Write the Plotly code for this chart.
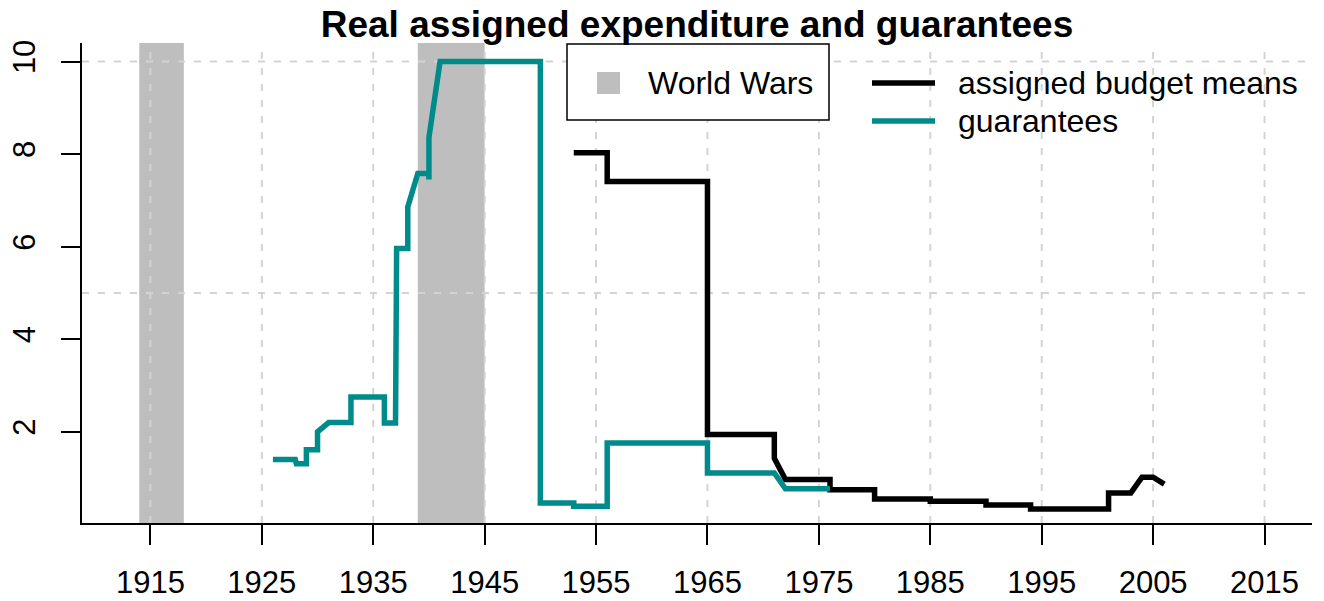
import plotly.graph_objects as go

# ---------------- data ----------------
guar_years = [1926.0, 1928.0, 1928.1, 1929.0, 1929.0, 1930.0, 1930.0, 1931.0, 1933.0, 1933.0,
              1936.0, 1936.0, 1937.0, 1937.0, 1937.1, 1938.1, 1938.1, 1939.0, 1940.0, 1940.0,
              1940.0, 1941.0, 1950.0, 1950.0, 1953.0, 1953.0, 1956.0, 1956.0, 1965.0, 1965.0,
              1971.0, 1972.0, 1976.0]
guar_values = [1.40, 1.40, 1.31, 1.31, 1.61, 1.61, 2.00, 2.20, 2.20, 2.75,
               2.75, 2.19, 2.19, 4.27, 5.96, 5.96, 6.86, 7.58, 7.58, 7.45,
               8.36, 10.0, 10.0, 0.46, 0.46, 0.39, 0.39, 1.76, 1.76, 1.11,
               1.11, 0.77, 0.77]

budget_years = [1953, 1956, 1956, 1965, 1965, 1971, 1971, 1972, 1976, 1976,
                1980, 1980, 1985, 1985, 1990, 1990, 1994, 1994, 2001, 2001,
                2003, 2004, 2005, 2006]
budget_values = [8.03, 8.03, 7.41, 7.41, 1.94, 1.94, 1.43, 0.97, 0.97, 0.75,
                 0.75, 0.55, 0.55, 0.50, 0.50, 0.42, 0.42, 0.33, 0.33, 0.68,
                 0.68, 1.02, 1.02, 0.87]

war_starts = [1914, 1939]
war_ends = [1918, 1945]

x_ticks = [1915, 1925, 1935, 1945, 1955, 1965, 1975, 1985, 1995, 2005, 2015]
y_ticks = [2, 4, 6, 8, 10]
y_grid = [5, 10]

title_text = "Real assigned expenditure and guarantees"
legend_war = "World Wars"
legend_budget = "assigned budget means"
legend_guar = "guarantees"

# ---------------- styling ----------------
TEAL = "#008B8B"
WAR_GRAY = "#BEBEBE"
GRID = "#D3D3D3"
FONT = "Liberation Sans, Arial, Helvetica, sans-serif"

W, H = 1324, 601
L, R, T, B = 82, 12, 43, 78
PW = W - L - R
PH = H - T - B


def px_x(X):
    return (X - L) / PW


def px_y(Y):
    return (H - B - Y) / PH


fig = go.Figure()

fig.add_trace(go.Scatter(x=budget_years, y=budget_values, mode="lines",
                         line=dict(color="black", width=5.5), showlegend=False,
                         name=legend_budget))
fig.add_trace(go.Scatter(x=guar_years, y=guar_values, mode="lines",
                         line=dict(color=TEAL, width=5.5), showlegend=False,
                         name=legend_guar))

shapes = []
# war rectangles
for s, e in zip(war_starts, war_ends):
    shapes.append(dict(type="rect", xref="x", yref="paper", x0=s, x1=e, y0=0, y1=1,
                       fillcolor=WAR_GRAY, line=dict(width=0), layer="below"))
# grid lines
for xv in x_ticks:
    shapes.append(dict(type="line", xref="x", yref="paper", x0=xv, x1=xv, y0=0, y1=1,
                       line=dict(color=GRID, width=2, dash="7px,9px"), layer="below"))
for yv in y_grid:
    shapes.append(dict(type="line", xref="paper", yref="y", x0=0, x1=1, y0=yv, y1=yv,
                       line=dict(color=GRID, width=2, dash="7px,9px"), layer="below"))

# legend 1 box (World Wars)
shapes.append(dict(type="rect", xref="paper", yref="paper",
                   x0=px_x(567), x1=px_x(829), y0=px_y(120), y1=px_y(44),
                   fillcolor="white", line=dict(color="black", width=1.5), layer="above"))
shapes.append(dict(type="rect", xref="paper", yref="paper",
                   x0=px_x(597), x1=px_x(620), y0=px_y(94), y1=px_y(72),
                   fillcolor=WAR_GRAY, line=dict(width=0), layer="above"))
# legend 2 line samples
shapes.append(dict(type="line", xref="paper", yref="paper",
                   x0=px_x(872), x1=px_x(935), y0=px_y(83), y1=px_y(83),
                   line=dict(color="black", width=5.5), layer="above"))
shapes.append(dict(type="line", xref="paper", yref="paper",
                   x0=px_x(872), x1=px_x(935), y0=px_y(121), y1=px_y(121),
                   line=dict(color=TEAL, width=5.5), layer="above"))

annotations = [
    dict(text=legend_war, xref="paper", yref="paper", x=px_x(646), y=px_y(83),
         xanchor="left", yanchor="middle", showarrow=False,
         font=dict(family=FONT, size=32, color="black")),
    dict(text=legend_budget, xref="paper", yref="paper", x=px_x(956), y=px_y(83),
         xanchor="left", yanchor="middle", showarrow=False,
         font=dict(family=FONT, size=32, color="black")),
    dict(text=legend_guar, xref="paper", yref="paper", x=px_x(956), y=px_y(121),
         xanchor="left", yanchor="middle", showarrow=False,
         font=dict(family=FONT, size=32, color="black")),
]

fig.update_layout(
    template="none",
    width=W, height=H, autosize=False,
    margin=dict(l=L, r=R, t=T, b=B, pad=0, autoexpand=False),
    paper_bgcolor="white", plot_bgcolor="white",
    font=dict(family=FONT, size=30, color="black"),
    title=dict(text="<b>" + title_text + "</b>", x=697 / W, xanchor="center",
               xref="container", y=1 - 24 / H, yanchor="middle", yref="container",
               font=dict(family=FONT, size=37, color="black")),
    shapes=shapes, annotations=annotations, showlegend=False,
)
fig.update_xaxes(range=[1908.86, 2019.26], tickvals=x_ticks, ticktext=[str(v) for v in x_ticks],
                 ticks="outside", ticklen=20, tickwidth=2, tickcolor="black",
                 showline=True, linewidth=2, linecolor="black", showgrid=False,
                 zeroline=False, ticklabelstandoff=11, automargin=False,
                 tickfont=dict(family=FONT, size=31, color="black"))
fig.update_yaxes(range=[0.03, 10.40], tickvals=y_ticks, ticktext=[str(v) for v in y_ticks],
                 ticks="outside", ticklen=19, tickwidth=2, tickcolor="black",
                 showline=True, linewidth=2, linecolor="black", showgrid=False,
                 zeroline=False, tickangle=-90, ticklabelstandoff=14, automargin=False,
                 tickfont=dict(family=FONT, size=31, color="black"))

fig.write_html("out.html", config={"displayModeBar": False},
               post_script="document.body.style.margin='0px';document.body.style.padding='0px';")
